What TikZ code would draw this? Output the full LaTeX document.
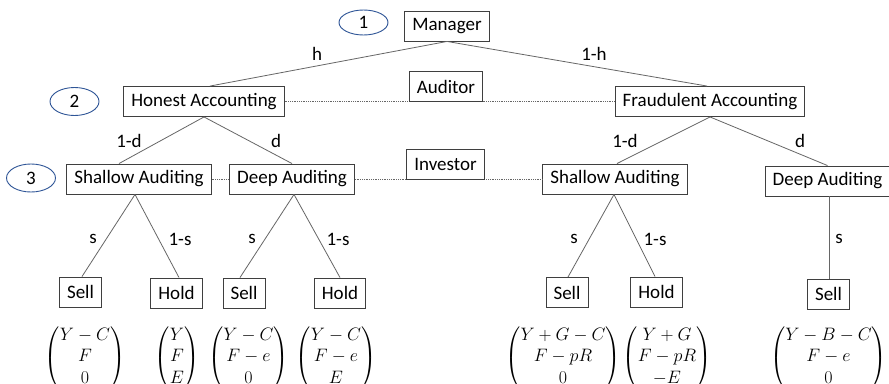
\RequirePackage{fix-cm}
\documentclass[tikz,border=0pt]{standalone}
\usepackage{amsmath}
\usepackage{fontspec}
\setmainfont{Carlito}
\usetikzlibrary{shapes.geometric}

\definecolor{boxline}{HTML}{3F3F3F}
\definecolor{edgeline}{HTML}{666666}
\definecolor{stageblue}{HTML}{2F5597}

\tikzset{
  player/.style={draw=boxline, line width=0.9pt, fill=white, inner xsep=7.5pt,
    inner ysep=0pt, minimum height=30pt, font=\fontsize{19}{22}\selectfont},
  stagemark/.style={ellipse, draw=stageblue, line width=0.9pt, inner sep=0pt,
    minimum width=49pt, minimum height=28pt, font=\fontsize{19}{22}\selectfont},
  branch/.style={draw=edgeline, line width=0.8pt},
  infoset/.style={draw=edgeline, line width=0.8pt, densely dotted},
  prob/.style={font=\fontsize{19}{22}\selectfont, inner sep=0pt},
  payoff/.style={font=\fontsize{18}{21.5}\selectfont, inner sep=0pt}
}

\begin{document}
\begin{tikzpicture}[x=1pt, y=-1pt]
\clip (0,0) rectangle (889,383);
\useasboundingbox (0,0) rectangle (889,383);
\fill[white] (0,0) rectangle (889,383);

% stage markers
\node[stagemark, minimum height=25pt] (st1) at (363.5,22.5) {1};
\node[stagemark] (st2) at (74.5,101.5) {2};
\node[stagemark] (st3) at (31,178) {3};

% decision nodes
\node[player] (mgr) at (447,26) {Manager};
\node[player] (hon) at (204,101.5) {Honest Accounting};
\node[player] (fra) at (710,101.5) {Fraudulent Accounting};
\node[player] (sh1) at (139,179) {Shallow Auditing};
\node[player] (dp1) at (292,179) {Deep Auditing};
\node[player] (sh2) at (615,179) {Shallow Auditing};
\node[player] (dp2) at (827.5,181) {Deep Auditing};

% information sets
\draw[infoset] (hon.east) -- (fra.west);
\draw[infoset] (sh1.east) -- (dp1.west);
\draw[infoset] (dp1.east) -- (sh2.west);
\node[player] (aud) at (446,86.5) {Auditor};
\node[player] (inv) at (445.5,164.5) {Investor};

% terminal actions
\node[player] (sell1) at (80.5,292) {Sell};
\node[player] (hold1) at (176.5,293) {Hold};
\node[player] (sell2) at (244,293) {Sell};
\node[player] (hold2) at (340,293) {Hold};
\node[player] (sell3) at (567,292.5) {Sell};
\node[player] (hold3) at (656.5,292) {Hold};
\node[player] (sell4) at (828.5,294) {Sell};

% branches
\draw[branch] (mgr.south) -- ([xshift=6pt]hon.north);
\draw[branch] (mgr.south) -- ([xshift=-3pt]fra.north);
\draw[branch] (hon.south) -- ([xshift=-20pt]sh1.north);
\draw[branch] (hon.south) -- (dp1.north);
\draw[branch] (fra.south) -- ([xshift=2pt]sh2.north);
\draw[branch] (fra.south) -- (dp2.north);
\draw[branch] ([xshift=-4pt]sh1.south) -- ([xshift=1.5pt]sell1.north);
\draw[branch] ([xshift=-4pt]sh1.south) -- ([xshift=2.5pt]hold1.north);
\draw[branch] ([xshift=2pt]dp1.south) -- ([xshift=-4pt]sell2.north);
\draw[branch] ([xshift=2pt]dp1.south) -- (hold2.north);
\draw[branch] ([xshift=-1pt]sh2.south) -- ([xshift=1pt]sell3.north);
\draw[branch] ([xshift=-1pt]sh2.south) -- ([xshift=-1.5pt]hold3.north);
\draw[branch] ([xshift=1.5pt]dp2.south) -- ([xshift=0.5pt]sell4.north);

% branch probabilities
\node[prob] (ph) at (317,54) {h};
\node[prob] (p1h) at (594,54) {1-h};
\node[prob] (pd1) at (129,141) {1-d};
\node[prob] (pd2) at (276,141) {d};
\node[prob] (pd3) at (625,141) {1-d};
\node[prob] (pd4) at (800,141) {d};
\node[prob] (ps1) at (93,239) {s};
\node[prob] (ps2) at (180,239) {1-s};
\node[prob] (ps3) at (252,239) {s};
\node[prob] (ps4) at (338,239) {1-s};
\node[prob] (ps5) at (574,239) {s};
\node[prob] (ps6) at (655,239) {1-s};
\node[prob] (ps7) at (839,239) {s};

% payoffs
\node[payoff] (u1) at (85,357.5) {$\begin{pmatrix} Y-C\\ F\\ 0\end{pmatrix}$};
\node[payoff] (u2) at (177,357.5) {$\begin{pmatrix} Y\\ F\\ E\end{pmatrix}$};
\node[payoff] (u3) at (248.5,357.5) {$\begin{pmatrix} Y-C\\ F-e\\ 0\end{pmatrix}$};
\node[payoff] (u4) at (336,357.5) {$\begin{pmatrix} Y-C\\ F-e\\ E\end{pmatrix}$};
\node[payoff] (u5) at (563,357.5) {$\begin{pmatrix} Y+G-C\\ F-pR\\ 0\end{pmatrix}$};
\node[payoff] (u6) at (667,357.5) {$\begin{pmatrix} Y+G\\ F-pR\\ -E\end{pmatrix}$};
\node[payoff] (u7) at (828.5,357.5) {$\begin{pmatrix} Y-B-C\\ F-e\\ 0\end{pmatrix}$};
\end{tikzpicture}
\end{document}
